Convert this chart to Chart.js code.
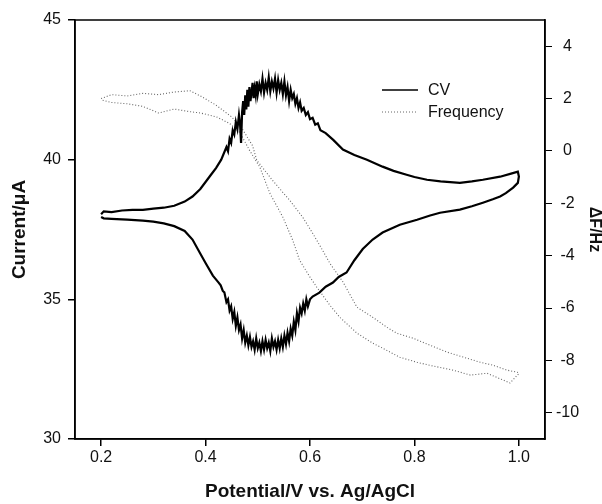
<!DOCTYPE html>
<html>
<head>
<meta charset="utf-8">
<script src="https://cdn.jsdelivr.net/npm/chart.js@4.4.0/dist/chart.umd.min.js"></script>
<style>
  html, body { margin:0; padding:0; background:#fff; }
  canvas { display:block; }
</style>
</head>
<body>
<canvas id="cv" width="602" height="504"></canvas>
<script>
// cyclic voltammogram: forward scan 0.2 -> 1.0 V, then back to 0.2 V
const cvPotential = [
  0.200,0.205,0.220,0.240,0.260,0.280,0.300,0.320,0.340,0.360,0.375,0.390,0.400,0.410,0.420,0.430,
  0.440,0.443,0.446,0.449,0.452,0.455,0.458,0.461,0.464,0.466,0.468,0.470,0.472,0.474,0.476,0.478,
  0.480,0.482,0.484,0.486,0.488,0.490,0.492,0.494,0.496,0.498,0.500,0.503,0.506,0.509,0.512,0.515,
  0.518,0.521,0.524,0.527,0.530,0.533,0.536,0.539,0.542,0.545,0.548,0.551,0.554,0.557,0.560,0.563,
  0.566,0.569,0.572,0.575,0.578,0.581,0.584,0.588,0.592,0.596,0.600,0.605,0.610,0.615,0.620,0.630,
  0.645,0.663,0.685,0.709,0.739,0.760,0.785,0.800,0.824,0.850,0.887,0.910,0.931,0.964,0.985,0.998,1.000,
  0.998,0.989,0.975,0.964,0.950,0.931,0.910,0.887,0.849,0.830,0.805,0.772,0.739,0.720,0.701,0.685,
  0.670,0.655,0.644,0.630,0.618,0.605,0.600,0.596,0.593,0.590,0.587,0.584,0.581,0.578,0.575,0.572,
  0.569,0.566,0.563,0.560,0.557,0.554,0.551,0.548,0.545,0.542,0.539,0.536,0.533,0.530,0.527,0.524,
  0.521,0.518,0.515,0.512,0.509,0.506,0.503,0.500,0.497,0.494,0.491,0.488,0.485,0.482,0.479,0.476,
  0.473,0.470,0.467,0.464,0.461,0.458,0.455,0.452,0.449,0.446,0.443,0.440,0.436,0.433,0.429,0.425,
  0.414,0.400,0.389,0.375,0.360,0.340,0.320,0.300,0.280,0.250,0.220,0.205,0.200
];
const cvCurrent = [
  38.05,38.15,38.12,38.18,38.20,38.20,38.25,38.28,38.35,38.50,38.68,38.95,39.20,39.45,39.70,40.00,
  40.45,40.30,40.75,40.60,41.05,40.90,41.35,41.10,41.60,41.30,40.60,41.70,42.10,41.60,42.30,41.80,
  42.50,41.90,42.60,42.10,42.40,42.75,42.20,42.55,42.30,42.80,42.35,42.70,42.45,42.90,42.40,42.75,
  42.50,42.95,42.45,42.80,42.55,42.90,42.40,42.85,42.50,42.75,42.35,42.80,42.30,42.60,42.10,42.50,
  42.20,42.35,42.00,42.20,41.85,42.05,41.75,41.85,41.60,41.70,41.45,41.50,41.25,41.30,41.05,40.95,
  40.70,40.36,40.17,40.00,39.75,39.60,39.46,39.38,39.28,39.22,39.17,39.22,39.28,39.39,39.50,39.57,39.40,
  39.17,39.00,38.80,38.68,38.58,38.46,38.33,38.21,38.10,38.00,37.85,37.67,37.39,37.14,36.80,36.40,
  35.96,35.80,35.60,35.45,35.24,35.10,35.00,34.75,35.00,34.60,34.85,34.50,34.70,34.20,34.50,33.90,
  34.20,33.70,33.95,33.50,33.80,33.40,33.70,33.30,33.60,33.25,33.55,33.20,33.50,33.30,33.60,33.15,
  33.45,33.25,33.55,33.20,33.50,33.15,33.45,33.25,33.60,33.20,33.50,33.30,33.65,33.35,33.70,33.45,
  33.90,33.60,34.10,33.90,34.35,34.05,34.55,34.30,34.75,34.60,35.00,34.90,35.25,35.30,35.50,35.60,
  35.85,36.30,36.67,37.14,37.45,37.62,37.72,37.78,37.82,37.85,37.88,37.90,37.95
];

// frequency shift loop
const freqPotential = [
  0.200,0.220,0.250,0.280,0.310,0.340,0.370,0.390,0.420,0.450,0.470,0.490,0.498,0.528,0.561,0.586,
  0.605,0.624,0.638,0.663,0.690,0.720,0.747,0.766,0.797,0.830,0.862,0.893,0.926,0.950,0.977,0.997,1.000,
  0.983,0.970,0.939,0.907,0.874,0.830,0.805,0.772,0.739,0.720,0.690,0.657,0.638,0.613,0.600,0.580,
  0.567,0.548,0.523,0.504,0.484,0.466,0.446,0.421,0.390,0.370,0.340,0.310,0.280,0.250,0.220,0.200
];
const freqShift = [
  2.00,2.15,2.10,2.20,2.15,2.25,2.30,2.10,1.75,1.30,0.85,0.20,-0.35,-1.12,-1.88,-2.53,
  -3.14,-3.79,-4.29,-5.00,-5.97,-6.35,-6.73,-6.96,-7.15,-7.42,-7.68,-7.87,-8.07,-8.18,-8.37,-8.45,-8.50,
  -8.86,-8.75,-8.49,-8.56,-8.37,-8.19,-8.07,-7.88,-7.53,-7.34,-6.96,-6.35,-5.89,-5.20,-4.82,-4.17,
  -3.41,-2.53,-1.61,-0.62,0.03,0.70,1.05,1.30,1.45,1.50,1.60,1.45,1.70,1.80,1.85,1.95
];

const xTicks = [0.2, 0.4, 0.6, 0.8, 1.0];
const currentTicks = [30, 35, 40, 45];
const freqTicks = [-10, -8, -6, -4, -2, 0, 2, 4];

const family = 'Arial, "Liberation Sans", sans-serif';
const tickFont = { family, size: 16 };
const titleFont = { family, size: 19, weight: 'bold' };

const fixedTicks = list => scale => { scale.ticks = list.map(v => ({ value: v })); };

// box round the plot and the legend inside it
const frame = {
  id: 'frame',
  afterDraw(chart) {
    const { ctx, chartArea: a } = chart;
    ctx.save();
    ctx.strokeStyle = '#000';
    ctx.lineWidth = 1.5;
    ctx.strokeRect(a.left, a.top, a.right - a.left, a.bottom - a.top);

    const rows = [90, 112];
    ctx.font = '16px ' + family;
    ctx.textBaseline = 'middle';
    chart.data.datasets.forEach((ds, i) => {
      ctx.beginPath();
      ctx.strokeStyle = ds.borderColor;
      ctx.lineWidth = ds.label === 'CV' ? 1.5 : 1;
      ctx.setLineDash(ds.borderDash || []);
      ctx.moveTo(382, rows[i]);
      ctx.lineTo(418, rows[i]);
      ctx.stroke();
      ctx.setLineDash([]);
      ctx.fillStyle = '#111';
      ctx.fillText(ds.label, 428, rows[i] + 1);
    });
    ctx.restore();
  }
};

new Chart(document.getElementById('cv'), {
  type: 'line',
  data: {
    datasets: [
      {
        label: 'CV',
        data: cvPotential.map((x, i) => ({ x, y: cvCurrent[i] })),
        borderColor: '#000',
        borderWidth: 2.2,
        pointRadius: 0,
        tension: 0,
        yAxisID: 'y'
      },
      {
        label: 'Frequency',
        data: freqPotential.map((x, i) => ({ x, y: freqShift[i] })),
        borderColor: '#666',
        borderWidth: 1.1,
        borderDash: [1, 2],
        pointRadius: 0,
        tension: 0,
        yAxisID: 'y1'
      }
    ]
  },
  options: {
    responsive: false,
    animation: false,
    layout: { padding: { top: 20, left: 0, right: 0, bottom: 0 } },
    plugins: { legend: { display: false }, tooltip: { enabled: false } },
    scales: {
      x: {
        type: 'linear',
        min: 0.15, max: 1.05,
        afterBuildTicks: fixedTicks(xTicks),
        afterFit: s => { s.height = 65; },
        grid: { drawOnChartArea: false, color: '#000', tickLength: 7, lineWidth: 1.5 },
        border: { color: '#000', width: 1.5 },
        ticks: { font: tickFont, color: '#111', padding: 2, maxRotation: 0, callback: v => v.toFixed(1) },
        title: { display: true, text: 'Potential/V vs. Ag/AgCl', font: titleFont, color: '#111', padding: { top: 0, bottom: 1 } }
      },
      y: {
        position: 'left',
        min: 30, max: 45,
        afterBuildTicks: fixedTicks(currentTicks),
        afterFit: s => { s.width = 75; },
        grid: { drawOnChartArea: false, color: '#000', tickLength: 7, lineWidth: 1.5 },
        border: { color: '#000', width: 1.5 },
        ticks: { font: tickFont, color: '#111', padding: 7 },
        title: { display: true, text: 'Current/μA', font: titleFont, color: '#111', padding: { top: 8, bottom: 0 } }
      },
      y1: {
        position: 'right',
        min: -11, max: 5,
        afterBuildTicks: fixedTicks(freqTicks),
        afterFit: s => { s.width = 57; },
        grid: { drawOnChartArea: false, color: '#000', tickLength: 7, lineWidth: 1 },
        border: { color: '#000', width: 1.5 },
        ticks: { font: tickFont, color: '#111', padding: 4, crossAlign: 'center' },
        title: { display: true, text: 'ΔF/Hz', font: { family, size: 16, weight: 'bold', lineHeight: 1 }, color: '#111', padding: 0 }
      }
    }
  },
  plugins: [frame]
});
</script>
</body>
</html>
